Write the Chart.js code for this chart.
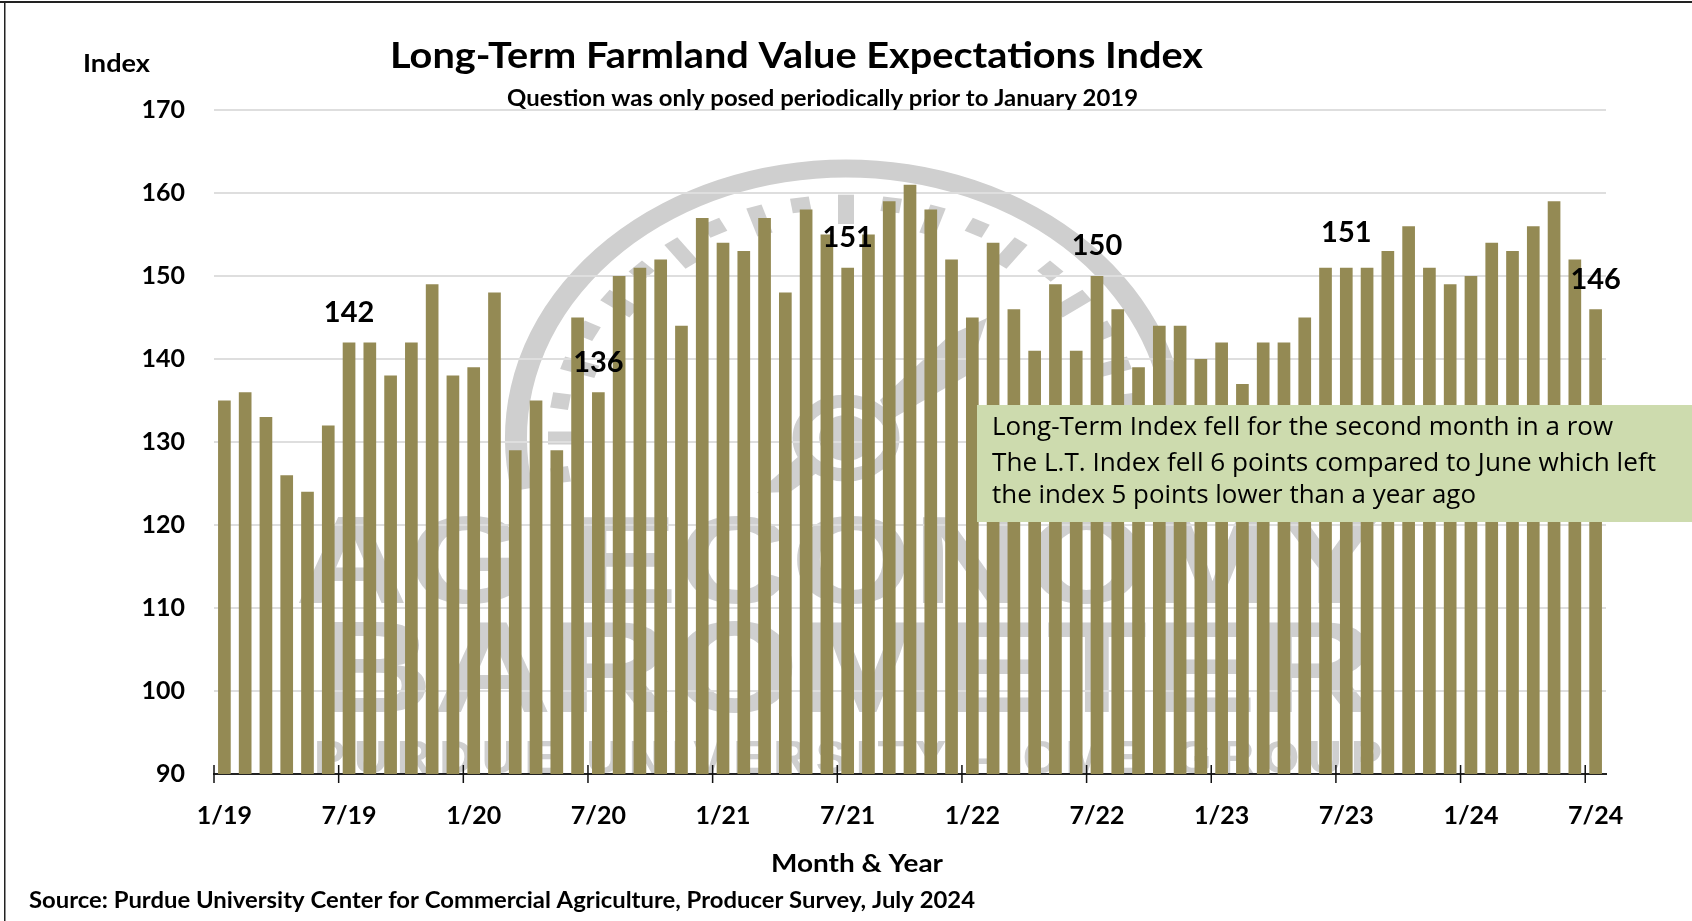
<!DOCTYPE html>
<html>
<head>
<meta charset="utf-8">
<style>html,body{margin:0;padding:0;background:#fff;overflow:hidden}canvas{display:block}</style>
<script src="https://cdn.jsdelivr.net/npm/chart.js@4"></script>
</head>
<body>
<canvas id="c" width="1692" height="921"></canvas>
<script>
const months = ["1/19","2/19","3/19","4/19","5/19","6/19","7/19","8/19","9/19","10/19","11/19","12/19",
"1/20","2/20","3/20","4/20","5/20","6/20","7/20","8/20","9/20","10/20","11/20","12/20",
"1/21","2/21","3/21","4/21","5/21","6/21","7/21","8/21","9/21","10/21","11/21","12/21",
"1/22","2/22","3/22","4/22","5/22","6/22","7/22","8/22","9/22","10/22","11/22","12/22",
"1/23","2/23","3/23","4/23","5/23","6/23","7/23","8/23","9/23","10/23","11/23","12/23",
"1/24","2/24","3/24","4/24","5/24","6/24","7/24"];
const indexValues = [135,136,133,126,124,132,142,142,138,142,149,138,
139,148,129,135,129,145,136,150,151,152,144,157,
154,153,157,148,158,155,151,155,159,161,158,152,
145,154,146,141,149,141,150,146,139,144,144,140,
142,137,142,142,145,151,151,151,153,156,151,149,
150,154,153,156,159,152,146];
const tickMonths = ["1/19","7/19","1/20","7/20","1/21","7/21","1/22","7/22","1/23","7/23","1/24","7/24"];
const labelMonths = ["7/19","7/20","7/21","7/22","7/23","7/24"];
const labelLift = [30,30,30,30,35,30];
const titleText = "Long-Term Farmland Value Expectations Index";
const subtitleText = "Question was only posed periodically prior to January 2019";
const yAxisName = "Index";
const xAxisName = "Month & Year";
const sourceText = "Source: Purdue University Center for Commercial Agriculture, Producer Survey, July 2024";
const noteLines = ["Long-Term Index fell for the second month in a row",
"The L.T. Index fell 6 points compared to June which left",
"the index 5 points lower than a year ago"];

const BAR = "#948A54", WM = "#cfcfcf", NOTE = "#CDDBAE";
const BOLD = '"Lato","Liberation Sans",sans-serif';

function fit(ctx, text, x, y, width, font, color) {
  ctx.save();
  ctx.font = font;
  ctx.fillStyle = color || "#000";
  ctx.textAlign = "left";
  ctx.textBaseline = "alphabetic";
  const w = ctx.measureText(text).width;
  ctx.translate(x, y);
  ctx.scale(width / w, 1);
  ctx.fillText(text, 0, 0);
  ctx.restore();
}

const watermark = {
  id: "watermark",
  beforeDraw(chart) {
    const ctx = chart.ctx, cx = 846, cy = 438;
    ctx.save();
    ctx.fillStyle = "#fff";
    ctx.fillRect(0, 0, 1692, 921);
    ctx.fillStyle = "#222";
    ctx.fillRect(0, 1, 1692, 2);
    ctx.fillRect(4, 1, 1.5, 920);
    ctx.filter = "blur(0.7px)";
    // gauge rim
    ctx.save();
    ctx.translate(cx, cy);
    ctx.scale(1, 269.5 / 330);
    ctx.strokeStyle = WM;
    ctx.lineWidth = 22;
    ctx.beginPath();
    ctx.arc(0, 0, 330, 169 * Math.PI / 180, 371 * Math.PI / 180);
    ctx.stroke();
    // gauge dashes
    for (let k = -1; k <= 21; k++) {
      const a = (180 + k * 9) * Math.PI / 180;
      const long = k % 2 === 0;
      ctx.lineWidth = long ? 16 : 19;
      ctx.beginPath();
      ctx.moveTo(Math.cos(a) * (long ? 262 : 280), Math.sin(a) * (long ? 262 : 280));
      ctx.lineTo(Math.cos(a) * 298, Math.sin(a) * 298);
      ctx.stroke();
    }
    ctx.restore();
    // hub
    ctx.fillStyle = WM;
    ctx.strokeStyle = WM;
    ctx.lineWidth = 13;
    ctx.beginPath();
    ctx.ellipse(cx, cy, 47, 37, 0, 0, 2 * Math.PI);
    ctx.stroke();
    ctx.beginPath();
    ctx.ellipse(cx, cy, 27, 23, 0, 0, 2 * Math.PI);
    ctx.fill();
    // needle
    ctx.beginPath();
    ctx.moveTo(880, 400);
    ctx.lineTo(950, 335);
    ctx.lineTo(987, 318);
    ctx.lineTo(968, 375);
    ctx.lineTo(890, 420);
    ctx.closePath();
    ctx.fill();
    ctx.beginPath();
    ctx.moveTo(757, 493);
    ctx.lineTo(800, 455);
    ctx.lineTo(818, 472);
    ctx.lineTo(790, 492);
    ctx.closePath();
    ctx.fill();
    // wordmark
    fit(ctx, "AG ECONOMY", 295, 603, 1087, 'bold 125px "Liberation Sans"', WM);
    fit(ctx, "BAROMETER", 314, 712, 1062, 'bold 130px "Liberation Sans"', WM);
    ctx.font = 'bold 47px "Liberation Sans"';
    ctx.textAlign = "left";
    ctx.textBaseline = "alphabetic";
    const small = "PURDUE UNIVERSITY - CME GROUP";
    ctx.letterSpacing = "0px";
    const w0 = ctx.measureText(small).width;
    ctx.letterSpacing = ((1068 - w0) / (small.length - 1)) + "px";
    ctx.fillText(small, 314, 773);
    ctx.restore();
  }
};

const overlay = {
  id: "overlay",
  afterDatasetsDraw(chart) {
    const ctx = chart.ctx, x = chart.scales.x, y = chart.scales.y;
    const step = x.getPixelForValue(1) - x.getPixelForValue(0);
    const axisY = y.getPixelForValue(90);
    // tick marks straddling the axis, on month boundaries
    ctx.save();
    ctx.strokeStyle = "#111";
    ctx.lineWidth = 1.5;
    tickMonths.forEach(m => {
      const px = x.getPixelForValue(months.indexOf(m)) - step / 2;
      ctx.beginPath();
      ctx.moveTo(px, axisY - 9);
      ctx.lineTo(px, axisY + 9);
      ctx.stroke();
    });
    ctx.restore();
    // selected value labels
    ctx.save();
    ctx.font = 'bold 29px ' + BOLD;
    ctx.fillStyle = "#000";
    ctx.textAlign = "center";
    ctx.textBaseline = "middle";
    labelMonths.forEach((m, i) => {
      const k = months.indexOf(m);
      ctx.fillText(String(indexValues[k]), x.getPixelForValue(k), y.getPixelForValue(indexValues[k]) - labelLift[i]);
    });
    ctx.restore();
    // callout
    ctx.save();
    ctx.fillStyle = NOTE;
    ctx.fillRect(977, 405, 715, 117);
    ctx.restore();
    const noteFont = '25px "Open Sans"';
    fit(ctx, noteLines[0], 992, 435, 621, noteFont);
    fit(ctx, noteLines[1], 992, 471, 664, noteFont);
    fit(ctx, noteLines[2], 992, 503, 484, noteFont);
    // page texts
    fit(ctx, titleText, 390, 68, 813, 'bold 37px ' + BOLD);
    fit(ctx, subtitleText, 507, 106, 631, 'bold 23px ' + BOLD);
    fit(ctx, yAxisName, 83, 72, 67, 'bold 24px ' + BOLD);
    fit(ctx, xAxisName, 771, 872, 172, 'bold 25px ' + BOLD);
    fit(ctx, sourceText, 29, 908, 946, 'bold 23px ' + BOLD);
  }
};

new Chart(document.getElementById("c"), {
  type: "bar",
  data: {
    labels: months,
    datasets: [{ label: "Long-Term Farmland Value Expectations Index", data: indexValues, backgroundColor: BAR,
      barPercentage: 0.61, categoryPercentage: 1 }]
  },
  options: {
    responsive: false,
    animation: false,
    devicePixelRatio: 1,
    layout: { padding: { top: 110, left: 0, right: 86, bottom: 0 } },
    plugins: { legend: { display: false }, tooltip: { enabled: false }, title: { display: false } },
    scales: {
      x: {
        afterFit(s) { s.height = 147; },
        grid: { drawOnChartArea: false, drawTicks: false },
        border: { display: true, color: "#222", width: 2 },
        ticks: {
          autoSkip: false, maxRotation: 0, minRotation: 0, padding: 27, color: "#000",
          font: { family: BOLD, weight: "bold", size: 25 },
          callback(v) { const l = months[v]; return tickMonths.includes(l) ? l : ""; }
        }
      },
      y: {
        min: 90, max: 170,
        afterFit(s) { s.width = 214; },
        grid: { color: "#dedede", lineWidth: 2, drawTicks: false },
        border: { display: false },
        ticks: { stepSize: 10, padding: 29, color: "#000", font: { family: BOLD, weight: "bold", size: 25 } }
      }
    }
  },
  plugins: [watermark, overlay]
});
</script>
</body>
</html>
